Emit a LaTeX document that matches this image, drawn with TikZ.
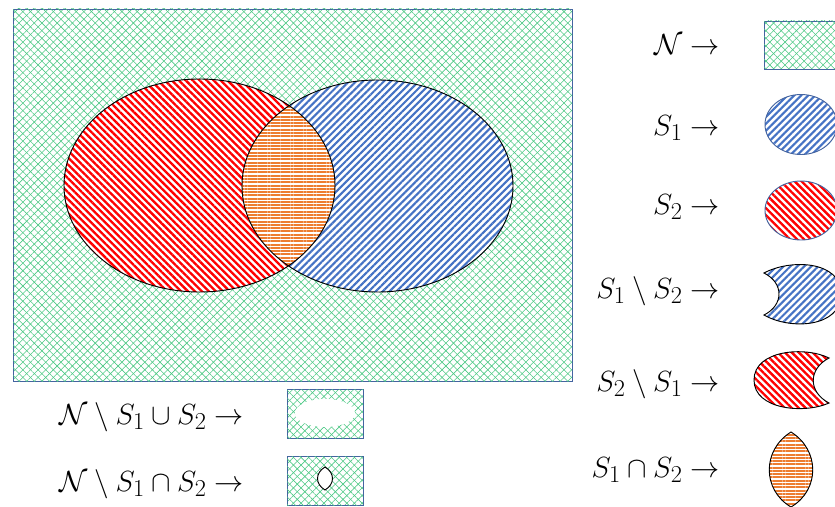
\documentclass[tikz,border=0pt]{standalone}
\usepackage{amsmath}
\usetikzlibrary{patterns.meta,positioning}
\definecolor{setOne}{RGB}{68,114,196}
\definecolor{setTwo}{RGB}{255,0,0}
\definecolor{setBoth}{RGB}{237,125,49}
\definecolor{universe}{RGB}{0,176,80}
\definecolor{frameLine}{RGB}{68,100,160}
\tikzset{
    lbl/.style={font=\fontsize{24.88}{30}\selectfont,inner sep=0pt,anchor=base east},
    uni/.style={pattern={Lines[angle=45,distance=4.6pt,line width=0.5pt]},pattern color=universe!70,
        postaction={pattern={Lines[angle=-45,distance=4.6pt,line width=0.5pt]},pattern color=universe!70}},
    one/.style={preaction={fill=white},pattern={Lines[angle=45,distance=4.2pt,line width=1.8pt]},pattern color=setOne},
    two/.style={preaction={fill=white},pattern={Lines[angle=-45,distance=4.2pt,line width=2pt]},pattern color=setTwo},
    both/.style={preaction={fill=white},pattern={Lines[angle=0,distance=2.8pt,line width=1.7pt]},pattern color=setBoth},
    edge/.style={draw=black,line width=0.8pt},
    frame/.style={draw=frameLine,line width=0.8pt}
}
\begin{document}
\begin{tikzpicture}[x=0.03cm,y=-0.03cm]
    \clip (0,0) rectangle (835,507);
    % the universe with both sets
    \coordinate (cTwo) at (199.5,185.5);
    \coordinate (cOne) at (377.5,186);
    \path[frame,uni] (13,9) rectangle (572,381);
    \path[two] (cTwo) ellipse [x radius=135.5,y radius=106.5];
    \path[one] (cOne) ellipse [x radius=135.5,y radius=106];
    \begin{scope}
        \clip (cTwo) ellipse [x radius=135.5,y radius=106.5];
        \path[both] (cOne) ellipse [x radius=135.5,y radius=106];
    \end{scope}
    \draw[edge] (cTwo) ellipse [x radius=135.5,y radius=106.5];
    \draw[edge] (cOne) ellipse [x radius=135.5,y radius=106];

    % legend, right column
    \node[lbl] (nLbl) at (720,55) {$\mathcal{N} \rightarrow$};
    \node[lbl] (oneLbl) at (720,135) {$S_1 \rightarrow$};
    \node[lbl] (twoLbl) at (720,214) {$S_2 \rightarrow$};
    \node[lbl] (oneMinusLbl) at (720,298) {$S_1 \setminus S_2 \rightarrow$};
    \node[lbl] (twoMinusLbl) at (720,391) {$S_2 \setminus S_1 \rightarrow$};
    \node[lbl] (bothLbl) at (720,477) {$S_1 \cap S_2 \rightarrow$};

    \path[frame,uni] (764,21) rectangle (835,69);
    \path[frame,one] (801,124.5) ellipse [x radius=36,y radius=30];
    \path[frame,two] (801,210.5) ellipse [x radius=36,y radius=29.5];
    \path[edge,one] (764,273) .. controls (790,259) and (840,260) .. (842,294)
        .. controls (840,328) and (790,330) .. (764,315)
        .. controls (784,305) and (784,283) .. (764,273) -- cycle;
    \path[edge,two] (829,358) .. controls (805,346) and (754,350) .. (754,380)
        .. controls (754,410) and (805,414) .. (829,403)
        .. controls (808,392) and (808,369) .. (829,358) -- cycle;
    \path[edge,both] (791,432) .. controls (762,450) and (762,490) .. (791,507)
        .. controls (820,490) and (820,450) .. (791,432) -- cycle;

    % legend, below
    \node[lbl] (restUnionLbl) at (244,424) {$\mathcal{N} \setminus S_1 \cup S_2 \rightarrow$};
    \node[lbl] (restInterLbl) at (244,491) {$\mathcal{N} \setminus S_1 \cap S_2 \rightarrow$};
    \path[frame,uni] (287,389) rectangle (363,438);
    \fill[white] (325,413) ellipse [x radius=30,y radius=14];
    \path[frame,uni] (287,456) rectangle (363,505);
    \path[edge,fill=white] (325,467) .. controls (315,473) and (315,484) .. (325,490)
        .. controls (335,484) and (335,473) .. (325,467) -- cycle;
\end{tikzpicture}
\end{document}
